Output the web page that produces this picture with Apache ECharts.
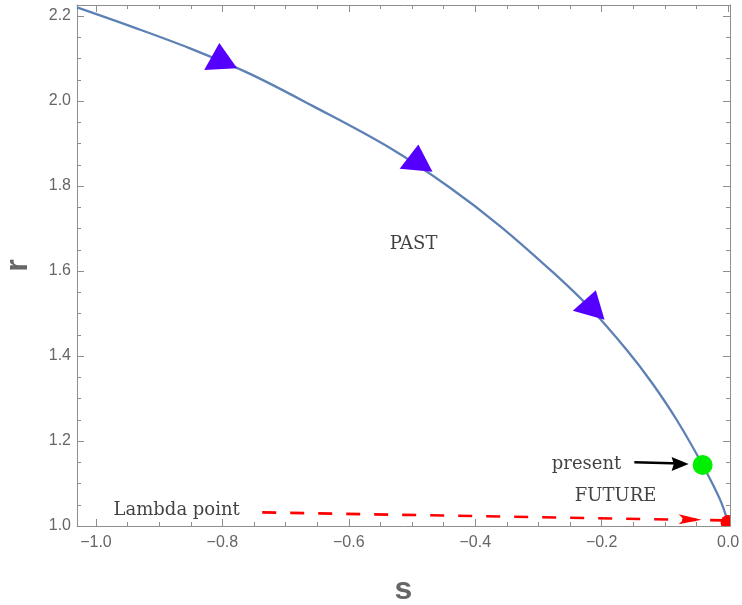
<!DOCTYPE html>
<html><head><meta charset="utf-8">
<script src="https://cdn.jsdelivr.net/npm/echarts@6/dist/echarts.min.js"></script>
<style>html,body{margin:0;padding:0;background:#fff}#c{width:742px;height:605px}</style>
</head><body><div id="c"></div>
<script>
// ---- data ----
const curveS = [-1.030, -0.9415, -0.8513, -0.7563, -0.6566, -0.5348, -0.4399, -0.3608, -0.2764, -0.2184, -0.1603, -0.1203, -0.0812, -0.0403, -0.0127, 0.0];
const curveR = [2.2205, 2.1741, 2.1240, 2.0640, 1.9880, 1.8894, 1.7960, 1.7059, 1.5960, 1.5129, 1.4141, 1.3365, 1.2494, 1.1435, 1.0620, 1.008];

const arrowS = [-0.8038, -0.4918, -0.2149];
const arrowR = [2.1059, 1.8675, 1.5254];
const arrowRot = [3, -5, -16];

const presentPoint = [-0.0403, 1.1435];
const lambdaPoint = [0.0, 1.008];

const lambdaLineS = [-0.737, 0.0];
const lambdaLineR = [1.032, 1.013];
const lambdaHead = [-0.0601, 1.0153];

const presentLineS = [-0.1483, -0.075];
const presentLineR = [1.1499, 1.1470];
const presentHead = [-0.0759, 1.1459];

const labelTexts = ['PAST', 'present', 'FUTURE', 'Lambda point'];
const labelS = [-0.4976, -0.2239, -0.178, -0.8723];
const labelR = [1.6635, 1.1440, 1.0694, 1.0376];

const xMajorTicks = [-1.0, -0.8, -0.6, -0.4, -0.2, 0.0];
const xMinorTicks = [-1.0, -0.95, -0.9, -0.85, -0.8, -0.75, -0.7, -0.65, -0.6, -0.55, -0.5, -0.45, -0.4, -0.35, -0.3, -0.25, -0.2, -0.15, -0.1, -0.05, 0.0];
const yMajorTicks = [1.0, 1.2, 1.4, 1.6, 1.8, 2.0, 2.2];
const yMinorTicks = [1.0, 1.05, 1.1, 1.15, 1.2, 1.25, 1.3, 1.35, 1.4, 1.45, 1.5, 1.55, 1.6, 1.65, 1.7, 1.75, 1.8, 1.85, 1.9, 1.95, 2.0, 2.05, 2.1, 2.15, 2.2];

const xMin = -1.03, xMax = 0.003, yMin = 1.0, yMax = 2.226;

// ---- chart ----
const frameColor = '#8e8e8e';
const labelColor = '#666666';
const fmt = v => (v < -1e-9 ? '\u2212' : '') + Math.abs(v).toFixed(1);

function xAx(pos, ticks, len, withLabels, withLine, extra) {
  return Object.assign({
    type: 'value', position: pos, min: xMin, max: xMax,
    axisLine: { show: withLine, onZero: false, lineStyle: { color: frameColor, width: 1 } },
    axisTick: { show: true, inside: true, length: len, customValues: ticks, lineStyle: { color: frameColor } },
    axisLabel: withLabels ? { show: true, customValues: ticks, formatter: fmt, color: labelColor, fontFamily: 'Liberation Sans', fontSize: 16, margin: 9 } : { show: false },
    splitLine: { show: false }
  }, extra || {});
}
function yAx(pos, ticks, len, withLabels, withLine, extra) {
  return Object.assign({
    type: 'value', position: pos, min: yMin, max: yMax,
    axisLine: { show: withLine, onZero: false, lineStyle: { color: frameColor, width: 1 } },
    axisTick: { show: true, inside: true, length: len, customValues: ticks, lineStyle: { color: frameColor } },
    axisLabel: withLabels ? { show: true, customValues: ticks, formatter: v => v.toFixed(1), color: labelColor, fontFamily: 'Liberation Sans', fontSize: 16, margin: 6 } : { show: false },
    splitLine: { show: false }
  }, extra || {});
}

const nameStyle = { color: labelColor, fontFamily: 'Liberation Sans', fontWeight: 'bold', fontSize: 32 };

const option = {
  animation: false,
  backgroundColor: '#ffffff',
  grid: { left: 77, right: 12, top: 5, bottom: 79, containLabel: false, outerBoundsMode: 'none' },
  xAxis: [
    xAx('bottom', xMajorTicks, 7, true, true, { name: 's', nameLocation: 'middle', nameGap: 48, nameTextStyle: nameStyle }),
    xAx('bottom', xMinorTicks, 4, false, false),
    xAx('top', xMajorTicks, 7, false, true),
    xAx('top', xMinorTicks, 4, false, false)
  ],
  yAxis: [
    yAx('left', yMajorTicks, 7, true, true, { name: 'r', nameLocation: 'middle', nameGap: 43, nameRotate: 90, nameTextStyle: nameStyle }),
    yAx('left', yMinorTicks, 4, false, false),
    yAx('right', yMajorTicks, 7, false, true),
    yAx('right', yMinorTicks, 4, false, false)
  ],
  series: [
    {
      type: 'line', name: 'trajectory', xAxisIndex: 0, yAxisIndex: 0,
      data: curveS.map((s, i) => [s, curveR[i]]),
      smooth: 0.35, showSymbol: false, symbol: 'none',
      lineStyle: { color: '#5e81b5', width: 2.3 }, z: 2, clip: true
    },
    {
      type: 'line', name: 'lambda', data: lambdaLineS.map((s, i) => [s, lambdaLineR[i]]),
      showSymbol: false, symbol: 'none',
      lineStyle: { color: '#ff0000', width: 2.6, type: [14, 14] }, z: 3
    },
    {
      type: 'line', name: 'presentArrow', data: presentLineS.map((s, i) => [s, presentLineR[i]]),
      showSymbol: false, symbol: 'none',
      lineStyle: { color: '#000000', width: 2.5 }, z: 3
    },
    {
      type: 'scatter', name: 'arrows',
      data: arrowS.map((s, i) => ({ value: [s, arrowR[i]], symbolRotate: arrowRot[i] })),
      symbol: 'triangle', symbolSize: [33, 26],
      itemStyle: { color: '#5500ff', opacity: 1 }, z: 4
    },
    {
      type: 'scatter', name: 'lambdaHead', data: [lambdaHead],
      symbol: 'path://M0,0 L22,5 L0,10 L5,5 Z', symbolSize: [23, 10], symbolRotate: -1,
      itemStyle: { color: '#ff0000', opacity: 1 }, z: 4
    },
    {
      type: 'scatter', name: 'presentHead', data: [presentHead],
      symbol: 'path://M0,0 L16,7 L0,14 L2,7 Z', symbolSize: [17, 14],
      itemStyle: { color: '#000000', opacity: 1 }, z: 4
    },
    {
      type: 'scatter', name: 'present', data: [presentPoint],
      symbol: 'circle', symbolSize: 20, itemStyle: { color: '#00ee00', opacity: 1 }, z: 5
    },
    {
      type: 'custom', name: 'lambdaPoint', data: [lambdaPoint], clip: true,
      renderItem: (params, api) => {
        const p = api.coord([api.value(0), api.value(1)]);
        return { type: 'circle', shape: { cx: p[0], cy: p[1], r: 7.5 }, style: { fill: '#ff0000' } };
      },
      z: 5
    },
    {
      type: 'scatter', name: 'labels', clip: false,
      data: labelTexts.map((t, i) => ({ value: [labelS[i], labelR[i]], name: t })),
      symbolSize: 0,
      label: {
        show: true, position: 'inside', formatter: p => p.name,
        color: '#111111', fontFamily: 'DejaVu Serif', fontSize: 18, align: 'center', verticalAlign: 'middle'
      },
      z: 6
    }
  ]
};

const chart = echarts.init(document.getElementById('c'), null, { renderer: 'canvas' });
chart.setOption(option);
</script>
</body></html>
